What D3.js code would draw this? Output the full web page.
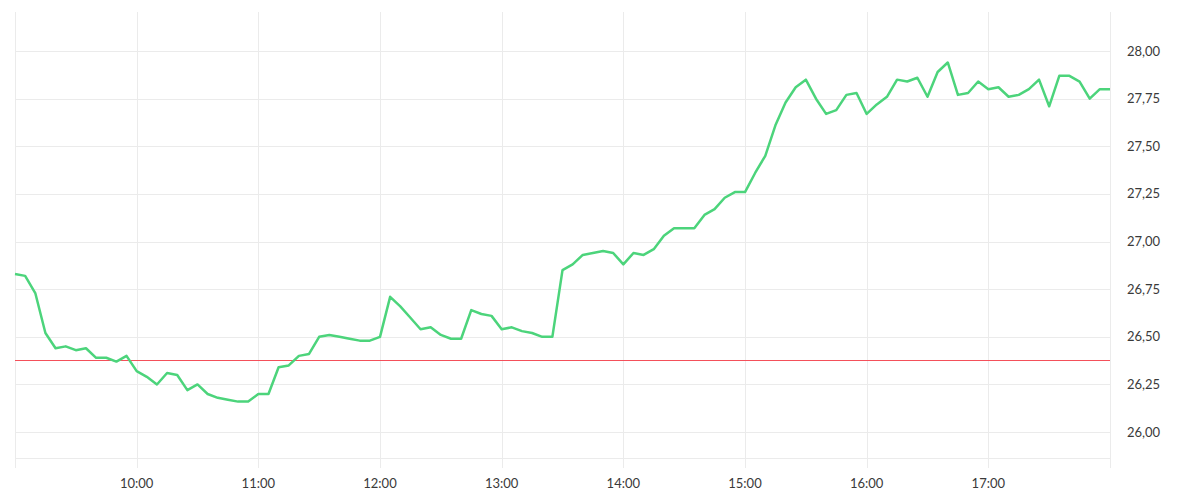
<!DOCTYPE html>
<html><head><meta charset="utf-8">
<script src="https://cdn.jsdelivr.net/npm/d3@7"></script>
<style>
html,body{margin:0;padding:0;background:#fff;}
svg{display:block;font-family:Lato,"Open Sans",sans-serif;}
</style></head>
<body>
<svg id="chart" width="1200" height="500"></svg>
<script>
const startTime = "09:00";
const intervalMinutes = 5;
const prices = [
26.83,26.82,26.73,26.52,26.44,26.45,26.43,26.44,26.39,26.39,26.37,26.40,
26.32,26.29,26.25,26.31,26.30,26.22,26.25,26.20,26.18,26.17,26.16,26.16,
26.20,26.20,26.34,26.35,26.40,26.41,26.50,26.51,26.50,26.49,26.48,26.48,
26.50,26.71,26.66,26.60,26.54,26.55,26.51,26.49,26.49,26.64,26.62,26.61,
26.54,26.55,26.53,26.52,26.50,26.50,26.85,26.88,26.93,26.94,26.95,26.94,
26.88,26.94,26.93,26.96,27.03,27.07,27.07,27.07,27.14,27.17,27.23,27.26,
27.26,27.36,27.45,27.61,27.73,27.81,27.85,27.75,27.67,27.69,27.77,27.78,
27.67,27.72,27.76,27.85,27.84,27.86,27.76,27.89,27.94,27.77,27.78,27.84,
27.80,27.81,27.76,27.77,27.80,27.85,27.71,27.87,27.87,27.84,27.75,27.80,
27.80
];
const referencePrice = 26.378;
const yTicks = [26.00,26.25,26.50,26.75,27.00,27.25,27.50,27.75,28.00];
const xTickLabels = ["10:00","11:00","12:00","13:00","14:00","15:00","16:00","17:00"];
const xDomain = ["09:00","18:00"];
const yDomain = [25.864,28.205];

(function(){
const parse = d3.timeParse("%H:%M");
const t0 = parse(startTime);
const data = prices.map((v,i)=>({t:new Date(t0.getTime()+i*intervalMinutes*60000), v}));

const mL=15, mR=1110, mT=12, mB=458;
const svg = d3.select("#chart");
const x = d3.scaleTime().domain(xDomain.map(parse)).range([mL,mR]);
const y = d3.scaleLinear().domain(yDomain).range([mB,mT]);

const grid = "#ebebeb";
svg.append("g").selectAll("line").data(yTicks).join("line")
  .attr("x1",mL).attr("x2",mR)
  .attr("y1",d=>Math.round(y(d))+0.5).attr("y2",d=>Math.round(y(d))+0.5)
  .attr("stroke",grid).attr("stroke-width",1);
svg.append("line").attr("x1",mL).attr("x2",mR).attr("y1",mB+0.5).attr("y2",mB+0.5)
  .attr("stroke",grid);
const vTicks = [xDomain[0]].concat(xTickLabels, [xDomain[1]]).map(parse);
svg.append("g").selectAll("line").data(vTicks).join("line")
  .attr("x1",d=>Math.round(x(d))+0.5).attr("x2",d=>Math.round(x(d))+0.5)
  .attr("y1",mT).attr("y2",mB+10)
  .attr("stroke",grid).attr("stroke-width",1);

svg.append("g").selectAll("text").data(xTickLabels).join("text")
  .attr("x",d=>x(parse(d))).attr("y",488)
  .attr("text-anchor","middle").attr("font-size",13).attr("fill","#3a3a3a")
  .text(d=>d);
const fmt = d=>d3.format(".2f")(d).replace(".",",");
svg.append("g").selectAll("text").data(yTicks).join("text")
  .attr("x",1127).attr("y",d=>y(d)).attr("dy","0.35em")
  .attr("font-size",13).attr("fill","#3a3a3a")
  .text(fmt);

svg.append("line").attr("x1",mL).attr("x2",mR)
  .attr("y1",Math.round(y(referencePrice))+0.5).attr("y2",Math.round(y(referencePrice))+0.5)
  .attr("stroke","#f4505a").attr("stroke-width",1);

svg.append("path").datum(data)
  .attr("fill","none").attr("stroke","#4cd47b").attr("stroke-width",2.5)
  .attr("stroke-linejoin","round")
  .attr("d",d3.line().x(d=>x(d.t)).y(d=>y(d.v)));
})();
</script>
</body></html>
